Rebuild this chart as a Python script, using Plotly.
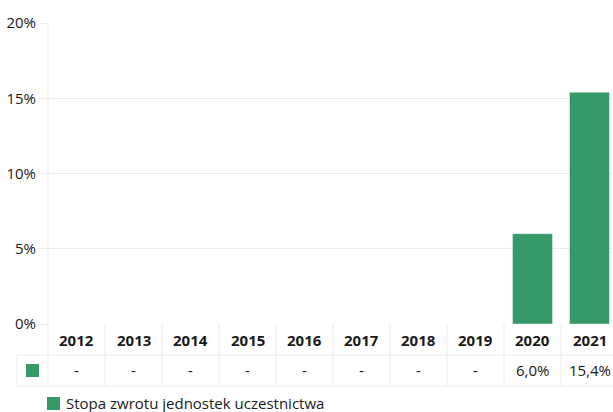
import plotly.graph_objects as go

years = ["2012", "2013", "2014", "2015", "2016", "2017", "2018", "2019", "2020", "2021"]
values = [None, None, None, None, None, None, None, None, 6.0, 15.4]
series_name = "Stopa zwrotu jednostek uczestnictwa"
y_ticks = [0, 5, 10, 15, 20]
y_tick_labels = ["0%", "5%", "10%", "15%", "20%"]

GREEN = "#359a68"
GRID = "#ebebeb"
TEXT = "#1a1a1a"
FONT = "Open Sans"

W, H = 613, 412
L, T, B = 48, 23, 88
plot_w = W - L
plot_h = H - T - B
col_px = 57


def py(p):
    return (H - B - p) / plot_h


def px(p):
    return (p - L) / plot_w


def fmt(v):
    return "-" if v is None else f"{v:.1f}".replace(".", ",") + "%"


fig = go.Figure()
fig.add_trace(go.Bar(
    x=list(range(len(years))), y=values, marker_color=GREEN,
    name=series_name, showlegend=False,
))

shapes = []
line = dict(color=GRID, width=1)
# left vertical axis line extending through the table
shapes.append(dict(type="line", xref="paper", yref="paper", x0=0, x1=0,
                   y0=1, y1=py(386), line=line, layer="below"))
# column separators in the table
for i in range(1, len(years) + 1):
    shapes.append(dict(type="line", xref="x", yref="paper", x0=i - 0.5, x1=i - 0.5,
                       y0=0, y1=py(386), line=line))
# horizontal table lines
for yy in (355, 386):
    shapes.append(dict(type="line", xref="paper", yref="paper", x0=px(17), x1=1.05,
                       y0=py(yy), y1=py(yy), line=line))
# left border of the value row
shapes.append(dict(type="line", xref="paper", yref="paper", x0=px(17), x1=px(17),
                   y0=py(355), y1=py(386), line=line))
# green key in table
shapes.append(dict(type="rect", xref="paper", yref="paper", x0=px(26), x1=px(39),
                   y0=py(377), y1=py(364), fillcolor=GREEN, line=dict(width=0)))
# legend key
shapes.append(dict(type="rect", xref="paper", yref="paper", x0=px(47), x1=px(60),
                   y0=py(410), y1=py(397), fillcolor=GREEN, line=dict(width=0)))

annotations = []
for i, (yr, v) in enumerate(zip(years, values)):
    annotations.append(dict(x=i, y=py(340), xref="x", yref="paper", text=f"<b>{yr}</b>",
                            showarrow=False, font=dict(size=15, color=TEXT, family=FONT),
                            xanchor="center", yanchor="middle"))
    annotations.append(dict(x=i, y=py(370), xref="x", yref="paper", text=fmt(v),
                            showarrow=False, font=dict(size=15, color=TEXT, family=FONT),
                            xanchor="center", yanchor="middle"))
annotations.append(dict(x=px(64), y=py(402.5), xref="paper", yref="paper", text=series_name,
                        showarrow=False, font=dict(size=15, color=TEXT, family=FONT),
                        xanchor="left", yanchor="middle"))

fig.update_layout(
    width=W, height=H,
    margin=dict(l=L, r=0, t=T, b=B, pad=0),
    paper_bgcolor="white", plot_bgcolor="white",
    bargap=0.3,
    showlegend=False,
    font=dict(family=FONT, color=TEXT, size=15),
    xaxis=dict(range=[-0.5, plot_w / col_px - 0.5], showticklabels=False, showgrid=False,
               zeroline=False, showline=False, ticks="", fixedrange=True),
    yaxis=dict(range=[0, 20], tickvals=y_ticks, ticktext=y_tick_labels, showgrid=True,
               gridcolor=GRID, gridwidth=1, zeroline=False, showline=False,
               ticks="outside", ticklen=8, tickcolor=GRID, tickwidth=1,
               tickfont=dict(size=15, color=TEXT, family=FONT), fixedrange=True),
    shapes=shapes,
    annotations=annotations,
)

fig.write_html("out.html", config={"displayModeBar": False},
               post_script="document.body.style.margin='0px';document.body.style.overflow='hidden';")
